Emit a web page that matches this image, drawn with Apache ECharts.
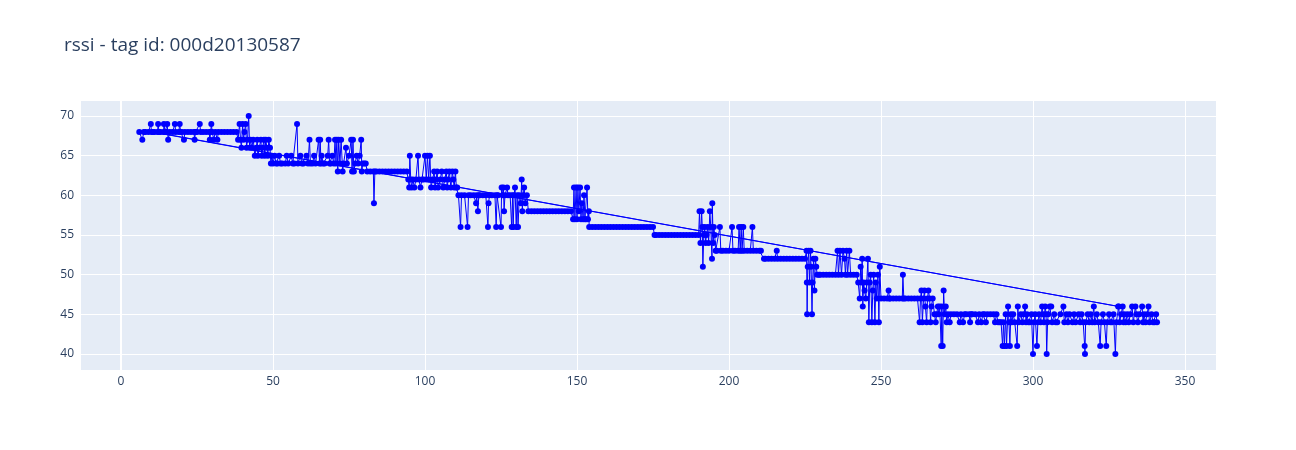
<!DOCTYPE html>
<html>
<head>
<meta charset="utf-8">
<script src="https://cdn.jsdelivr.net/npm/echarts@6/dist/echarts.min.js"></script>
<style>html,body{margin:0;padding:0;background:#fff;}#c{width:1296px;height:450px;}</style>
</head>
<body>
<div id="c"></div>
<script>
const titleText = 'rssi - tag id: 000d20130587';
const xTicks = [0, 50, 100, 150, 200, 250, 300, 350];
const yTicks = [40, 45, 50, 55, 60, 65, 70];

const segA = [[6,68],[7,67],[7.5,68],[8,68],[9,68],[9.8,69],[10,68],[328,46],[10.5,68],[11,68],[12,68],[12.2,69],[12.5,68],[13,68],[14,68],[14.1,69],[14.5,68],[15,68],[15.2,69],[15.5,67],[16,68],[17,68],[17.7,69],[18,68],[19,68],[19.3,69],[19.6,68],[20,68],[20.7,67],[21,68],[22,68],[23,68],[24,68],[24.2,67],[24.5,68],[25,68],[25.9,69],[26.2,68],[27,68],[28,68],[29,68],[29.2,67],[29.5,68],[29.7,69],[30,68],[30.5,67],[31,68],[31.7,67],[32,68],[33,68],[34,68],[35,68],[36,68],[37,68],[38,68]];
const segB = [[38.5,67],[39,69],[39.3,67],[39.6,66],[40,69],[40.3,67],[40.6,68],[41,69],[41.3,66],[41.6,67],[42,70],[42.3,66],[42.6,67],[43,66],[43.5,67],[44,65],[44.5,66],[44.8,67],[45,65],[45.5,66],[46,67],[46.3,65],[46.6,66],[47,67],[47.3,65],[47.6,67],[48,66],[48.3,65],[48.6,67],[49,66],[49.3,64],[49.6,65],[50,64],[50.5,65],[51,64],[51.5,64],[52,65],[52.5,64]];
const segC = [[53,64],[54,64],[54.5,65],[55,64],[56,65],[56.5,64],[57,64],[57.9,69],[58.2,64],[59,65],[59.5,64],[60,64],[61,65],[61.5,64],[62,67],[62.3,64],[63,64],[63.5,65],[64,64],[65,67],[65.3,64],[65.5,67],[65.8,64],[66,65],[66.5,64],[67,64],[68,65],[68.3,67],[68.6,64],[69,64],[69.5,65],[70,64],[70.4,67],[70.7,64],[71,67],[71.3,63],[71.6,67],[72,64],[72.4,67],[72.9,63],[73.2,64],[74,66],[74.3,64],[75,65],[75.7,67],[76,63],[76.3,67],[76.6,63],[77,64],[77.5,65],[78,64],[78.5,65],[79,67],[79.2,63],[79.5,64],[80,64],[80.5,64],[81,63]];
const segD = [[82,63],[83,63],[83.2,59],[83.5,63],[84,63],[85,63],[86,63],[87,63],[88,63],[89,63],[90,63],[91,63],[92,63],[93,63],[94,63],[94.5,62],[94.8,61],[95,65],[95.3,62],[95.6,61]];
const segE = [[96,62],[96.5,61],[97,62],[97.7,65],[98,62],[98.5,61],[99,62],[99.5,62],[100,65],[100.4,62],[100.8,65],[101.2,62],[101.6,65],[102,61],[102.5,62],[103,63],[103.3,61],[103.6,62],[104,63],[104.3,61],[105,62],[105.5,63],[106,61],[106.5,62],[107,63],[107.3,61],[107.6,62],[108,63],[108.5,61],[109,63],[109.3,62],[109.6,61],[110,63],[110.3,61],[110.6,61],[111,60]];
const segF = [[111.7,56],[112,60],[113,60],[114,56],[114.3,60],[115,60],[116,60],[116.8,59],[117,60],[117.4,58],[117.7,60],[118,60],[119,60],[120,60],[120.7,56],[120.9,59],[121.2,60],[122,60],[123,60],[123.4,56],[123.7,60],[124,60],[125,56],[125.2,61],[125.5,60],[125.8,61],[126,58],[126.3,60],[127,61],[127.3,60],[128,60],[128.5,56],[128.8,60],[129,56],[129.3,60],[129.6,61],[130,56],[130.3,60],[130.6,56],[131,60],[131.5,59],[131.8,62],[132,58],[132.3,60],[132.6,61],[133,59],[133.5,60],[134,58]];
const segG = [[135,58],[136,58],[137,58],[138,58],[139,58],[140,58],[141,58],[142,58],[143,58],[144,58],[145,58],[146,58],[147,58],[148,58]];
const segH = [[148.7,57],[149,61],[149.3,57],[149.7,61],[150,57],[150.3,61],[150.6,58],[151,61],[151.3,57],[151.6,59],[152,57],[152.3,60],[152.6,57],[153,57],[153.3,61],[153.6,57],[153.9,58],[154,56]];
const segI = [[155,56],[156,56],[157,56],[158,56],[159,56],[160,56],[161,56],[162,56],[163,56],[164,56],[165,56],[166,56],[167,56],[168,56],[169,56],[170,56],[171,56],[172,56],[173,56],[174,56],[175,56],[175.5,55],[176,55],[177,55],[178,55],[179,55],[180,55],[181,55],[182,55],[183,55],[184,55],[185,55],[186,55],[187,55],[188,55],[189,55],[190,55]];
const segJ = [[190.3,58],[190.6,54],[191,58],[191.2,56],[191.4,51],[191.7,55],[192,56],[192.3,54],[192.6,55],[193,56],[193.3,54],[193.7,58],[194,56],[194.4,52],[194.5,59],[194.8,54],[195,56],[195.3,55],[195.6,53]];
const segK = [[196,53],[197,56],[197.3,53],[198,53],[199,53],[200,53],[201,56],[201.3,53],[202,53],[203,53],[203.3,56],[203.7,53],[204,56],[204.3,53],[204.7,56],[205,53],[206,53],[207,53],[207.7,56],[208,53],[209,53],[210,53],[210.5,53],[211.5,52]];
const segL = [[212,52],[213,52],[214,52],[215,52],[215.7,53],[216,52],[217,52],[218,52],[219,52],[220,52],[221,52],[222,52],[223,52],[224,52],[225,52],[225.5,53],[225.6,49],[225.7,45],[225.9,51],[226.2,53],[226.5,49],[226.8,53],[227,51],[227.3,45],[227.5,49],[227.8,52],[228.1,48],[228.4,52],[228.7,51],[229,50],[229.6,50]];
const segM = [[230,50],[231,50],[232,50],[233,50],[234,50],[235,50],[235.7,53],[236,50],[236.5,53],[237,50],[237.5,53],[238,52],[238.3,50],[238.7,53],[239,50],[239.6,53],[240,50],[241,50],[242,50],[242.5,49],[243,47],[243.3,51],[243.6,49],[243.8,52],[244,46],[244.3,49],[244.6,48],[245,47],[245.3,49],[245.7,52],[246,44],[246.3,49],[246.6,50],[247,44],[247.3,48],[247.6,50],[248,44],[248.3,49],[248.6,47],[249,50],[249.3,44],[249.6,51],[250,47]];
const segN = [[251,47],[252,47],[252.5,48],[252.8,47],[253,47],[254,47],[255,47],[256,47],[257,47],[257.2,50],[257.5,47],[258,47],[259,47],[260,47],[261,47],[262,47]];
const segO = [[262.7,44],[263,47],[263.3,48],[263.6,44],[264,47],[264.3,48],[264.6,46],[265,44],[265.3,47],[265.6,48],[266,47],[266.3,44],[266.6,46],[267,47],[267.6,45],[268,44],[268.3,45],[268.7,46],[269,45],[269.3,46],[269.8,41],[270,46],[270.3,41],[270.6,48],[270.9,45],[271.3,46],[271.6,44],[272,45]];
const segP = [[272.6,44],[273,45],[274,45],[275,45],[275.9,44],[276.3,45],[277,44],[277.5,45],[278,45],[279,45],[279.3,44],[279.7,45],[280,45],[281,45],[281.9,44],[282.3,45],[283,44],[283.5,45],[284,45],[284.5,44],[285,45],[286,45],[287,45],[287.5,44],[288,45],[288.5,44],[289,44]];
const segQ = [[289.5,44],[290,41],[290.3,44],[290.6,41],[291,45],[291.3,41],[291.8,46],[292.1,44],[292.4,41],[292.7,45],[293,44],[293.5,45],[294,44],[294.8,41],[295,46],[295.3,44],[296,45],[296.5,44],[297,45],[297.4,46],[297.7,44],[298,45],[298.5,44],[299,44],[299.5,45],[300,40],[300.3,44],[300.7,45],[301.3,41],[301.6,44],[302,45],[302.5,44],[303,46],[303.3,45],[303.6,44],[304,46],[304.3,45],[304.5,40],[304.8,44],[305,45],[305.5,46],[306,46],[306.3,44],[307,45],[307.5,44],[308,44]];
const segR = [[309,45],[310,46],[310.3,44],[311,45],[311.5,44],[312,45],[313,44],[313.5,45],[314,44],[315,45],[315.5,44],[316,45],[316.5,44],[317,41],[317.1,40],[317.3,44],[318,45],[318.5,44],[319,45],[319.5,44],[320,46],[320.3,44],[321,45],[321.5,44],[322.1,41],[322.4,44],[323,45],[323.5,44],[324.1,41],[324.4,44],[325,45],[325.5,44],[326,44],[326.5,45],[327.1,40],[327.4,44],[328.2,46],[328.5,44],[329,45],[329.5,46],[329.8,44],[330,45],[330.5,44],[331,45],[331.5,44],[332,45],[332.6,46],[333,44],[333.7,46],[334,45],[334.5,44],[335,45],[335.9,46],[336.2,44],[336.5,45],[337,44],[337.5,45],[338,46],[338.3,44],[339,45],[339.5,44],[340,44],[340.5,45],[340.8,44]];

const points = [].concat(segA, segB, segC, segD, segE, segF, segG, segH, segI, segJ, segK, segL, segM, segN, segO, segP, segQ, segR);

const chart = echarts.init(document.getElementById('c'), null, {renderer: 'canvas'});
const txt = '#2a3f5f';
const font = '"Open Sans", verdana, arial, sans-serif';
chart.setOption({
  animation: false,
  backgroundColor: '#ffffff',
  title: {
    text: titleText,
    left: 59, top: 31,
    textStyle: {fontFamily: font, fontSize: 19, fontWeight: 'normal', color: txt}
  },
  grid: {
    left: 80, right: 80, top: 100, bottom: 80,
    show: true, backgroundColor: '#E5ECF6', borderWidth: 0,
    containLabel: false
  },
  xAxis: {
    type: 'value', min: -13.5, max: 360.2,
    minInterval: 50, maxInterval: 50,
    axisLine: {show: false}, axisTick: {show: false},
    axisLabel: {
      color: txt, fontFamily: font, fontSize: 12, margin: 6,
      showMinLabel: false, showMaxLabel: false,
      formatter: function (v) { return xTicks.indexOf(v) >= 0 ? String(v) : ''; }
    },
    splitLine: {show: true, lineStyle: {color: '#ffffff', width: 1}}
  },
  yAxis: {
    type: 'value', min: 37.98, max: 72.02,
    minInterval: 5, maxInterval: 5,
    axisLine: {show: false}, axisTick: {show: false},
    axisLabel: {
      color: txt, fontFamily: font, fontSize: 12, margin: 6,
      showMinLabel: false, showMaxLabel: false,
      formatter: function (v) { return yTicks.indexOf(v) >= 0 ? String(v) : ''; }
    },
    splitLine: {show: true, lineStyle: {color: '#ffffff', width: 1}}
  },
  series: [{
    type: 'line',
    data: points,
    showSymbol: true,
    showAllSymbol: true,
    symbol: 'circle',
    symbolSize: 6,
    color: '#0000ff',
    itemStyle: {color: '#0000ff', borderWidth: 0},
    lineStyle: {color: '#0000ff', width: 1},
    emphasis: {disabled: true},
    markLine: {
      silent: true, symbol: 'none', label: {show: false},
      lineStyle: {color: '#ffffff', width: 2, type: 'solid'},
      data: [{xAxis: 0}],
      z: 1
    },
    z: 3
  }]
});
</script>
</body>
</html>
